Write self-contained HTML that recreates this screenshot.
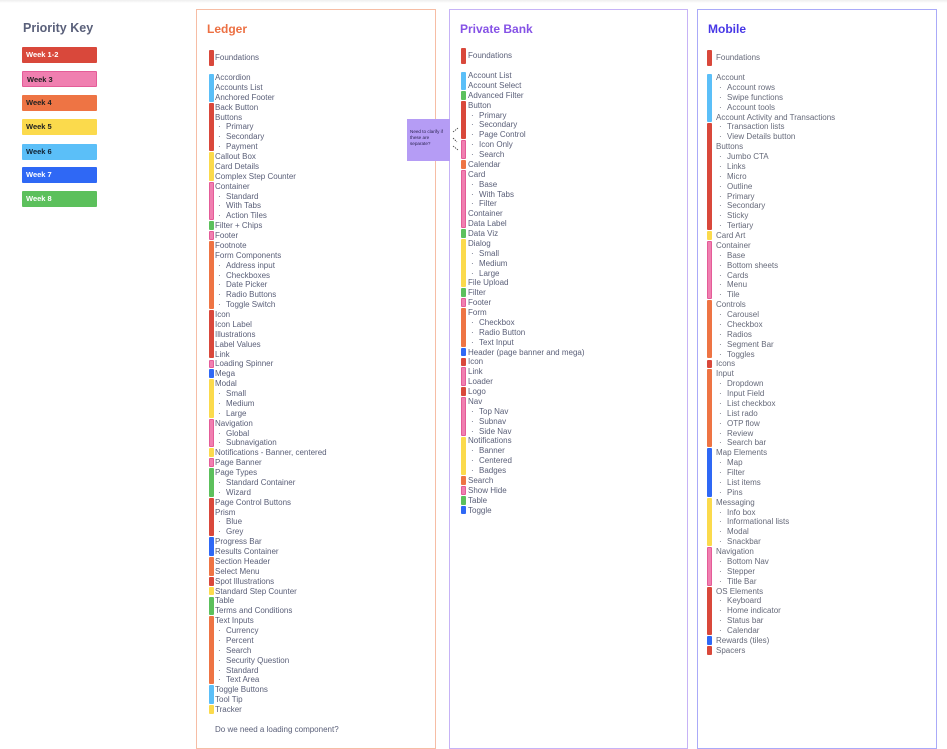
<!DOCTYPE html>
<html><head><meta charset="utf-8"><style>
*{margin:0;padding:0;box-sizing:border-box}
html,body{width:947px;height:729px;overflow:hidden;background:#fff;font-family:"Liberation Sans",sans-serif}
.top{position:absolute;left:0;top:0;width:947px;height:3px;background:linear-gradient(#eee,#fff)}
.col{position:absolute;top:9px;height:740px;border:1.5px solid}
.t{position:absolute;font-weight:bold;font-size:12px}
.list{position:absolute;font-size:8px;line-height:9.875px;color:#5a5f78;white-space:nowrap}
.list div.s{padding-left:3px}
.list div.s b{font-weight:normal;display:inline-block;width:8px}
.bar{position:absolute;width:5px;border-radius:1px}
.r{background:#d9483b}.p{background:#f07fb0;border:0.8px solid #e45c98}.o{background:#ee7444}.y{background:#fbda4c}.lb{background:#5bbff8}.bl{background:#2f68f5}.g{background:#5cc05c}
.key{position:absolute;left:22px;width:75px;height:16px;font-size:7.5px;font-weight:bold;line-height:16px;padding-left:4px;border-radius:1px}
</style></head><body>
<div class="top"></div>
<div style="position:absolute;left:23px;top:21px;font-size:12.5px;font-weight:bold;color:#5a607a">Priority Key</div>
<div class="key r" style="top:47px;color:#fff">Week 1-2</div>
<div class="key p" style="top:71px;color:#222">Week 3</div>
<div class="key o" style="top:95px;color:#222">Week 4</div>
<div class="key y" style="top:119px;color:#222">Week 5</div>
<div class="key lb" style="top:144px;color:#123">Week 6</div>
<div class="key bl" style="top:167px;color:#fff">Week 7</div>
<div class="key g" style="top:191px;color:#fff">Week 8</div>

<div class="col" style="left:196px;width:240px;border-color:#f6bda5"></div>
<div class="col" style="left:449px;width:239px;border-color:#c6b3f6"></div>
<div class="col" style="left:697px;width:240px;border-color:#aaaaf8"></div>
<div class="t" style="left:207px;top:22px;color:#ec7043">Ledger</div>
<div class="t" style="left:460px;top:22px;color:#8552e6">Private Bank</div>
<div class="t" style="left:708px;top:22px;color:#4737e6">Mobile</div>

<!-- Ledger -->
<div class="bar r" style="left:209px;top:50px;height:16px"></div>
<div class="list" style="left:215px;top:53px">Foundations</div>
<div class="bar lb" style="left:209px;top:73.5px;height:28.6px"></div>
<div class="bar r" style="left:209px;top:102.7px;height:48.4px"></div>
<div class="bar y" style="left:209px;top:152.1px;height:28.6px"></div>
<div class="bar p" style="left:209px;top:181.7px;height:38.5px"></div>
<div class="bar g" style="left:209px;top:221.2px;height:8.9px"></div>
<div class="bar p" style="left:209px;top:231.1px;height:8.9px"></div>
<div class="bar o" style="left:209px;top:241px;height:68.1px"></div>
<div class="bar r" style="left:209px;top:310.1px;height:48.4px"></div>
<div class="bar p" style="left:209px;top:359.5px;height:8.9px"></div>
<div class="bar bl" style="left:209px;top:369.3px;height:8.9px"></div>
<div class="bar y" style="left:209px;top:379.2px;height:38.5px"></div>
<div class="bar p" style="left:209px;top:418.7px;height:28.6px"></div>
<div class="bar y" style="left:209px;top:448.3px;height:8.9px"></div>
<div class="bar p" style="left:209px;top:458.2px;height:8.9px"></div>
<div class="bar g" style="left:209px;top:468.1px;height:28.6px"></div>
<div class="bar r" style="left:209px;top:497.7px;height:38.5px"></div>
<div class="bar bl" style="left:209px;top:537.2px;height:18.75px"></div>
<div class="bar o" style="left:209px;top:557px;height:18.75px"></div>
<div class="bar r" style="left:209px;top:576.7px;height:8.9px"></div>
<div class="bar y" style="left:209px;top:586.6px;height:8.9px"></div>
<div class="bar g" style="left:209px;top:596.5px;height:18.75px"></div>
<div class="bar o" style="left:209px;top:616.2px;height:68.1px"></div>
<div class="bar lb" style="left:209px;top:685.4px;height:18.75px"></div>
<div class="bar y" style="left:209px;top:705.1px;height:8.9px"></div>
<div class="list" style="left:215px;top:73.06px">
<div>Accordion</div><div>Accounts List</div><div>Anchored Footer</div><div>Back Button</div><div>Buttons</div>
<div class="s"><b>·</b>Primary</div><div class="s"><b>·</b>Secondary</div><div class="s"><b>·</b>Payment</div>
<div>Callout Box</div><div>Card Details</div><div>Complex Step Counter</div><div>Container</div>
<div class="s"><b>·</b>Standard</div><div class="s"><b>·</b>With Tabs</div><div class="s"><b>·</b>Action Tiles</div>
<div>Filter + Chips</div><div>Footer</div><div>Footnote</div><div>Form Components</div>
<div class="s"><b>·</b>Address input</div><div class="s"><b>·</b>Checkboxes</div><div class="s"><b>·</b>Date Picker</div><div class="s"><b>·</b>Radio Buttons</div><div class="s"><b>·</b>Toggle Switch</div>
<div>Icon</div><div>Icon Label</div><div>Illustrations</div><div>Label Values</div><div>Link</div><div>Loading Spinner</div><div>Mega</div><div>Modal</div>
<div class="s"><b>·</b>Small</div><div class="s"><b>·</b>Medium</div><div class="s"><b>·</b>Large</div>
<div>Navigation</div><div class="s"><b>·</b>Global</div><div class="s"><b>·</b>Subnavigation</div>
<div>Notifications - Banner, centered</div><div>Page Banner</div><div>Page Types</div>
<div class="s"><b>·</b>Standard Container</div><div class="s"><b>·</b>Wizard</div>
<div>Page Control Buttons</div><div>Prism</div><div class="s"><b>·</b>Blue</div><div class="s"><b>·</b>Grey</div>
<div>Progress Bar</div><div>Results Container</div><div>Section Header</div><div>Select Menu</div><div>Spot Illustrations</div><div>Standard Step Counter</div><div>Table</div><div>Terms and Conditions</div><div>Text Inputs</div>
<div class="s"><b>·</b>Currency</div><div class="s"><b>·</b>Percent</div><div class="s"><b>·</b>Search</div><div class="s"><b>·</b>Security Question</div><div class="s"><b>·</b>Standard</div><div class="s"><b>·</b>Text Area</div>
<div>Toggle Buttons</div><div>Tool Tip</div><div>Tracker</div>
</div>
<div class="list" style="left:215px;top:725px">Do we need a loading component?</div>

<!-- sticky -->
<div style="position:absolute;left:407px;top:119px;width:43px;height:42px;background:#b59cf5;font-size:4.6px;line-height:6px;color:#2a2350;padding:10px 2px 0 3px">Need to clarify if these are separate?</div>
<svg style="position:absolute;left:0;top:0" width="947" height="729"><g stroke="#333" stroke-width="0.8" stroke-dasharray="1.5,1"><line x1="453" y1="132" x2="458" y2="128"/><line x1="453" y1="138" x2="457" y2="142"/><line x1="453" y1="146" x2="458" y2="150"/></g></svg>

<!-- Private Bank -->
<div class="bar r" style="left:461px;top:48px;height:16px"></div>
<div class="list" style="left:468px;top:51px">Foundations</div>
<div class="bar lb" style="left:461px;top:71.5px;height:18.75px"></div>
<div class="bar g" style="left:461px;top:90.8px;height:8.9px"></div>
<div class="bar r" style="left:461px;top:100.7px;height:38.5px"></div>
<div class="bar p" style="left:461px;top:140.2px;height:18.75px"></div>
<div class="bar o" style="left:461px;top:160px;height:8.9px"></div>
<div class="bar p" style="left:461px;top:169.8px;height:58.25px"></div>
<div class="bar g" style="left:461px;top:229.1px;height:8.9px"></div>
<div class="bar y" style="left:461px;top:239px;height:48.4px"></div>
<div class="bar g" style="left:461px;top:288.3px;height:8.9px"></div>
<div class="bar p" style="left:461px;top:298.2px;height:8.9px"></div>
<div class="bar o" style="left:461px;top:308.1px;height:38.5px"></div>
<div class="bar bl" style="left:461px;top:347.6px;height:8.9px"></div>
<div class="bar r" style="left:461px;top:357.5px;height:8.9px"></div>
<div class="bar p" style="left:461px;top:367.3px;height:18.75px"></div>
<div class="bar r" style="left:461px;top:387.1px;height:8.9px"></div>
<div class="bar p" style="left:461px;top:397px;height:38.5px"></div>
<div class="bar y" style="left:461px;top:436.5px;height:38.5px"></div>
<div class="bar o" style="left:461px;top:476px;height:8.9px"></div>
<div class="bar p" style="left:461px;top:485.8px;height:8.9px"></div>
<div class="bar g" style="left:461px;top:495.7px;height:8.9px"></div>
<div class="bar bl" style="left:461px;top:505.6px;height:8.9px"></div>
<div class="list" style="left:468px;top:71.06px">
<div>Account List</div><div>Account Select</div><div>Advanced Filter</div><div>Button</div>
<div class="s"><b>·</b>Primary</div><div class="s"><b>·</b>Secondary</div><div class="s"><b>·</b>Page Control</div><div class="s"><b>·</b>Icon Only</div><div class="s"><b>·</b>Search</div>
<div>Calendar</div><div>Card</div><div class="s"><b>·</b>Base</div><div class="s"><b>·</b>With Tabs</div><div class="s"><b>·</b>Filter</div>
<div>Container</div><div>Data Label</div><div>Data Viz</div><div>Dialog</div>
<div class="s"><b>·</b>Small</div><div class="s"><b>·</b>Medium</div><div class="s"><b>·</b>Large</div>
<div>File Upload</div><div>Filter</div><div>Footer</div><div>Form</div>
<div class="s"><b>·</b>Checkbox</div><div class="s"><b>·</b>Radio Button</div><div class="s"><b>·</b>Text Input</div>
<div>Header (page banner and mega)</div><div>Icon</div><div>Link</div><div>Loader</div><div>Logo</div><div>Nav</div>
<div class="s"><b>·</b>Top Nav</div><div class="s"><b>·</b>Subnav</div><div class="s"><b>·</b>Side Nav</div>
<div>Notifications</div><div class="s"><b>·</b>Banner</div><div class="s"><b>·</b>Centered</div><div class="s"><b>·</b>Badges</div>
<div>Search</div><div>Show Hide</div><div>Table</div><div>Toggle</div>
</div>

<!-- Mobile -->
<div class="bar r" style="left:707px;top:50px;height:16px"></div>
<div class="list" style="left:716px;top:53px;color:#666a7a">Foundations</div>
<div class="bar lb" style="left:707px;top:73.5px;height:48.4px"></div>
<div class="bar r" style="left:707px;top:122.5px;height:107.6px"></div>
<div class="bar y" style="left:707px;top:231.1px;height:8.9px"></div>
<div class="bar p" style="left:707px;top:241px;height:58.25px"></div>
<div class="bar o" style="left:707px;top:300.2px;height:58.25px"></div>
<div class="bar r" style="left:707px;top:359.5px;height:8.9px"></div>
<div class="bar o" style="left:707px;top:369.3px;height:78px"></div>
<div class="bar bl" style="left:707px;top:448.3px;height:48.4px"></div>
<div class="bar y" style="left:707px;top:497.7px;height:48.4px"></div>
<div class="bar p" style="left:707px;top:547.1px;height:38.5px"></div>
<div class="bar r" style="left:707px;top:586.6px;height:48.4px"></div>
<div class="bar bl" style="left:707px;top:636.1px;height:8.9px"></div>
<div class="bar r" style="left:707px;top:646px;height:8.9px"></div>
<div class="list" style="left:716px;top:73.06px;color:#666a7a">
<div>Account</div><div class="s"><b>·</b>Account rows</div><div class="s"><b>·</b>Swipe functions</div><div class="s"><b>·</b>Account tools</div>
<div>Account Activity and Transactions</div><div class="s"><b>·</b>Transaction lists</div><div class="s"><b>·</b>View Details button</div>
<div>Buttons</div><div class="s"><b>·</b>Jumbo CTA</div><div class="s"><b>·</b>Links</div><div class="s"><b>·</b>Micro</div><div class="s"><b>·</b>Outline</div><div class="s"><b>·</b>Primary</div><div class="s"><b>·</b>Secondary</div><div class="s"><b>·</b>Sticky</div><div class="s"><b>·</b>Tertiary</div>
<div>Card Art</div><div>Container</div><div class="s"><b>·</b>Base</div><div class="s"><b>·</b>Bottom sheets</div><div class="s"><b>·</b>Cards</div><div class="s"><b>·</b>Menu</div><div class="s"><b>·</b>Tile</div>
<div>Controls</div><div class="s"><b>·</b>Carousel</div><div class="s"><b>·</b>Checkbox</div><div class="s"><b>·</b>Radios</div><div class="s"><b>·</b>Segment Bar</div><div class="s"><b>·</b>Toggles</div>
<div>Icons</div><div>Input</div><div class="s"><b>·</b>Dropdown</div><div class="s"><b>·</b>Input Field</div><div class="s"><b>·</b>List checkbox</div><div class="s"><b>·</b>List rado</div><div class="s"><b>·</b>OTP flow</div><div class="s"><b>·</b>Review</div><div class="s"><b>·</b>Search bar</div>
<div>Map Elements</div><div class="s"><b>·</b>Map</div><div class="s"><b>·</b>Filter</div><div class="s"><b>·</b>List items</div><div class="s"><b>·</b>Pins</div>
<div>Messaging</div><div class="s"><b>·</b>Info box</div><div class="s"><b>·</b>Informational lists</div><div class="s"><b>·</b>Modal</div><div class="s"><b>·</b>Snackbar</div>
<div>Navigation</div><div class="s"><b>·</b>Bottom Nav</div><div class="s"><b>·</b>Stepper</div><div class="s"><b>·</b>Title Bar</div>
<div>OS Elements</div><div class="s"><b>·</b>Keyboard</div><div class="s"><b>·</b>Home indicator</div><div class="s"><b>·</b>Status bar</div><div class="s"><b>·</b>Calendar</div>
<div>Rewards (tiles)</div><div>Spacers</div>
</div>
</body></html>
